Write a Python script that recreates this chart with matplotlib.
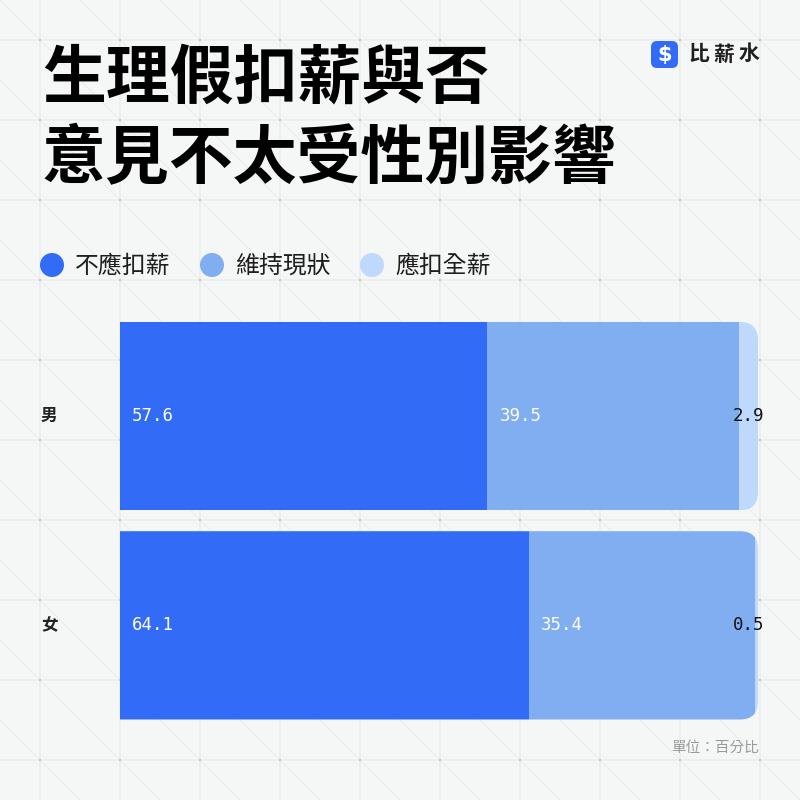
import matplotlib
matplotlib.use("Agg")
import matplotlib.pyplot as plt
from matplotlib.patches import FancyBboxPatch, Circle
import numpy as np

plt.rcParams['font.family'] = ['Noto Sans CJK TC', 'DejaVu Sans']

title = "生理假扣薪與否\n意見不太受性別影響"
categories = ["男", "女"]
series_names = ["不應扣薪", "維持現狀", "應扣全薪"]
values = {
    "不應扣薪": [57.6, 64.1],
    "維持現狀": [39.5, 35.4],
    "應扣全薪": [2.9, 0.5],
}
colors = ["#316BF6", "#80AEF0", "#BFD9FD"]
brand = "比薪水"
unit_note = "單位：百分比"

BG = "#F5F6F6"
W = H = 800
fig = plt.figure(figsize=(8, 8), dpi=100, facecolor=BG)

# ---- background grid ----
bg = fig.add_axes([0, 0, 1, 1], zorder=0)
bg.set_xlim(0, W)
bg.set_ylim(H, 0)
bg.axis("off")
bg.set_facecolor(BG)
grid = np.arange(40, W, 80)
for c in range(-800, 1600, 80):
    bg.plot([c, c + 800], [0, 800], color="#E9EAEA", lw=0.7, zorder=0)
for g in grid:
    bg.axvline(g, color="#EDEEEE", lw=1.3, zorder=0.5)
    bg.axhline(g, color="#EDEEEE", lw=1.3, zorder=0.5)
gx, gy = np.meshgrid(grid, grid)
bg.scatter(gx.ravel(), gy.ravel(), s=2.5, color="#C4C4C4", marker="s", lw=0, zorder=0.6)

# ---- title ----
fig.text(42 / W, 1 - 79 / H, title.split("\n")[0], fontsize=46, fontweight=900,
         color="#000000", va="center", ha="left")
fig.text(42 / W, 1 - 159 / H, title.split("\n")[1], fontsize=46, fontweight=900,
         color="#000000", va="center", ha="left")

# ---- logo ----
logo = FancyBboxPatch((651, 41), 27, 27, boxstyle="round,pad=0,rounding_size=6",
                      facecolor="#316BF6", edgecolor="none", zorder=3)
bg.add_patch(logo)
bg.text(664.5, 55, "$", fontsize=15, fontweight="bold", color="white",
        ha="center", va="center", family="DejaVu Sans", zorder=4)
for i, ch in enumerate(brand):
    bg.text(699 + i * 25, 54, ch, fontsize=15, fontweight="bold", color="#1E1E1E",
            ha="center", va="center", zorder=4)

# ---- legend ----
for i, (name, col) in enumerate(zip(series_names, colors)):
    cx = 52 + i * 160
    bg.add_patch(Circle((cx, 265), 12, facecolor=col, edgecolor="none", zorder=3))
    bg.text(cx + 23, 266, name, fontsize=17.2, color="#1E1E1E", ha="left",
            va="center", zorder=4)

# ---- chart ----
ax = fig.add_axes([120 / W, (H - 719.5) / H, 638 / W, 397.5 / H], zorder=2)
ax.set_facecolor("none")
ax.set_xlim(0, 100)
ax.set_ylim(1.45, -0.45)
ax.axis("off")

bh = 0.9
y = np.arange(len(categories))
r_in = 0.18
for j, cat in enumerate(categories):
    row = [values[s][j] for s in series_names]
    total = sum(row)
    disp = ax.transData.transform([[0, y[j] + bh / 2], [total, y[j] - bh / 2]])
    inch = fig.dpi_scale_trans.inverted().transform(disp)
    x0, y0 = inch[0]
    x1, y1 = inch[1]
    clip = FancyBboxPatch((x0 - r_in, y0), (x1 - x0) + r_in, y1 - y0,
                          boxstyle=f"round,pad=0,rounding_size={r_in}",
                          transform=fig.dpi_scale_trans, facecolor="none", edgecolor="none")
    left = 0
    for k, (s, v) in enumerate(zip(series_names, row)):
        bars = ax.barh(y[j], v, left=left, height=bh, color=colors[k], edgecolor="none")
        for b in bars:
            b.set_clip_path(clip)
        if v >= 5:
            ax.annotate(f"{v:.1f}", xy=(left, y[j]), xytext=(12, 0), textcoords="offset pixels",
                        ha="left", va="center", fontsize=12.5, color="white",
                        family="DejaVu Sans Mono")
        else:
            ax.annotate(f"{v:.1f}", xy=(left + v, y[j]), xytext=(6, 0), textcoords="offset pixels",
                        ha="right", va="center", fontsize=12.5, color="#111111",
                        family="DejaVu Sans Mono")
        left += v
    # category label
    ax.annotate(cat, xy=(0, y[j]), xytext=(-79, 0), textcoords="offset pixels",
                ha="left", va="center", fontsize=12, fontweight="bold", color="#222222")

# ---- unit note ----
bg.text(759, 748, unit_note, fontsize=10.5, color="#9A9A9A", ha="right", va="center", zorder=4)

fig.savefig("out.png", dpi=100, facecolor=BG)
